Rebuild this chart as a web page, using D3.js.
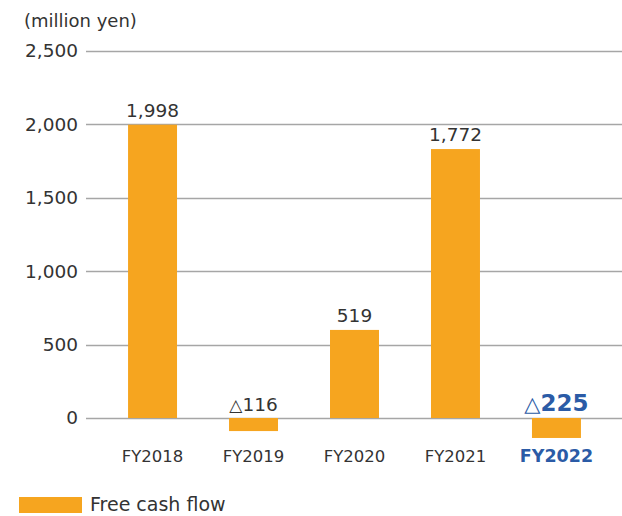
<!DOCTYPE html>
<html><head><meta charset="utf-8">
<script src="https://cdn.jsdelivr.net/npm/d3@7"></script>
<style>body{margin:0;background:#fff}svg{display:block}</style>
</head><body><svg id="c" width="622" height="516"></svg>
<script>
const categories = ["FY2018","FY2019","FY2020","FY2021","FY2022"];
const values = [1998, -89, 600, 1832, -136];
const valueLabels = ["1,998","△116","519","1,772","△225"];
const yTicks = [0, 500, 1000, 1500, 2000, 2500];
const unitLabel = "(million yen)";
const seriesName = "Free cash flow";

const svg = d3.select("#c");
const font = "'DejaVu Sans', 'Noto Sans', sans-serif";
const barColor = "#f6a51f";
const textColor = "#333";
const hl = "#2b5ba6";

const y = d3.scaleLinear().domain([0, 2500]).range([418, 51]);
const x = d3.scaleBand().domain(categories).range([102, 607]).paddingInner(0.515).paddingOuter(0.258);

// gridlines
svg.append("g").selectAll("line").data(yTicks).join("line")
  .attr("x1", 86).attr("x2", 622)
  .attr("y1", d => Math.round(y(d)) + 0.5).attr("y2", d => Math.round(y(d)) + 0.5)
  .attr("stroke", "#a6a6a6").attr("stroke-width", 1.3);

// y labels
svg.append("g").selectAll("text").data(yTicks).join("text")
  .attr("x", 78).attr("y", d => y(d)).attr("dy", "0.35em")
  .attr("text-anchor", "end").attr("font-family", font).attr("font-size", 18.5)
  .attr("fill", textColor).text(d => d3.format(",")(d));

svg.append("text").attr("x", 24).attr("y", 27).attr("font-family", font)
  .attr("font-size", 18).attr("fill", textColor).text(unitLabel);

// bars
svg.append("g").selectAll("rect").data(values).join("rect")
  .attr("x", (d, i) => x(categories[i]))
  .attr("width", x.bandwidth())
  .attr("y", d => y(Math.max(0, d)))
  .attr("height", d => Math.abs(y(d) - y(0)))
  .attr("fill", barColor);

// value labels
const last = categories.length - 1;
svg.append("g").selectAll("text").data(values).join("text")
  .attr("x", (d, i) => x(categories[i]) + x.bandwidth() / 2)
  .attr("y", (d, i) => d >= 0 ? y(d) - 8 : y(0) - 7)
  .attr("text-anchor", "middle").attr("font-family", font)
  .attr("font-size", (d, i) => i === last ? 23 : 18.5)
  .attr("font-weight", (d, i) => i === last ? 700 : 400)
  .attr("fill", (d, i) => i === last ? hl : textColor)
  .each(function(d, i) {
    const t = d3.select(this), s = valueLabels[i];
    if (s.startsWith("△")) {
      t.append("tspan").attr("font-weight", 400).attr("font-size", i === last ? 21 : 17).text("△");
      t.append("tspan").text(s.slice(1));
    } else t.text(s);
  });

// category labels
svg.append("g").selectAll("text").data(categories).join("text")
  .attr("x", d => x(d) + x.bandwidth() / 2).attr("y", 462)
  .attr("text-anchor", "middle").attr("font-family", font)
  .attr("font-size", (d, i) => i === last ? 17.5 : 16.5)
  .attr("font-weight", (d, i) => i === last ? 700 : 400)
  .attr("fill", (d, i) => i === last ? hl : textColor).text(d => d);

// legend
svg.append("rect").attr("x", 19).attr("y", 497).attr("width", 63).attr("height", 16).attr("fill", barColor);
svg.append("text").attr("x", 90).attr("y", 511).attr("font-family", font).attr("font-size", 19)
  .attr("fill", textColor).text(seriesName);
</script></body></html>
